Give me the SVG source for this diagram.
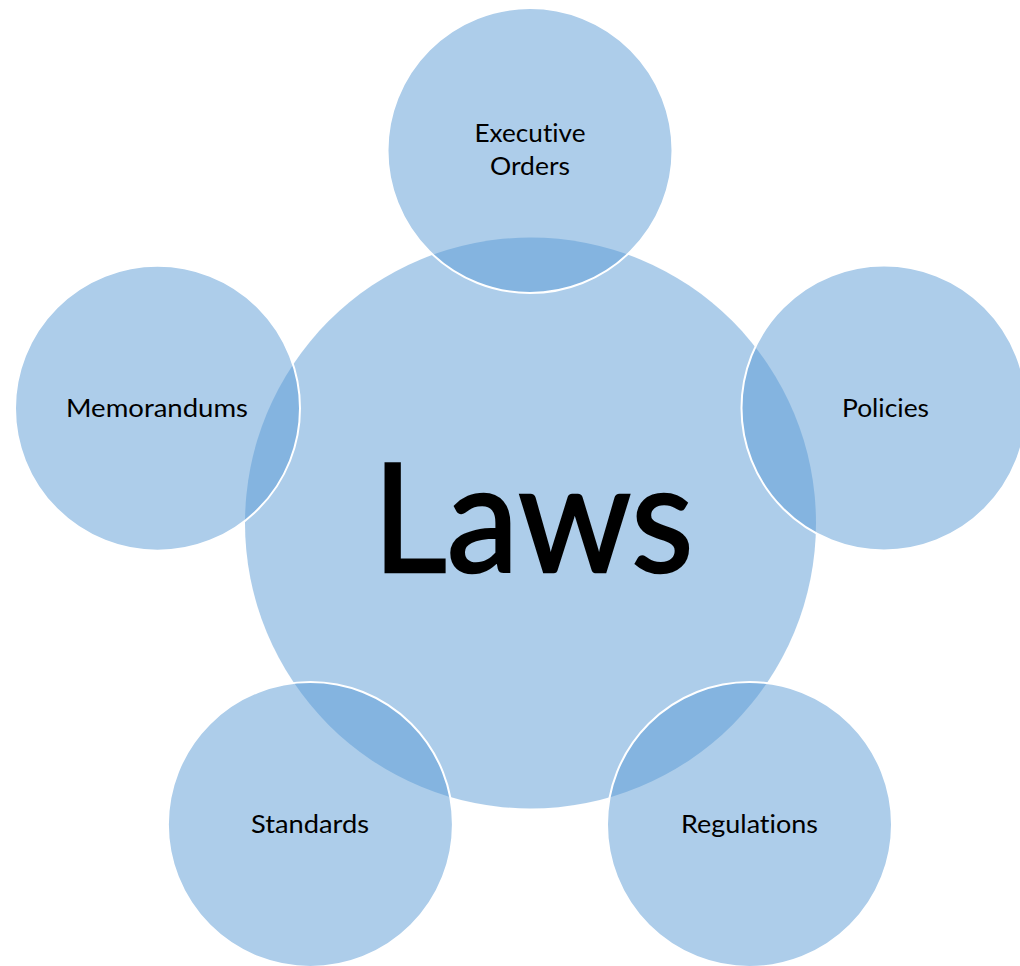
<svg xmlns="http://www.w3.org/2000/svg" width="1020" height="966" viewBox="0 0 1020 966">
  <style>
    .hub { fill: #5b9bd5; fill-opacity: 0.5; stroke: none; }
    .sat { fill: #5b9bd5; fill-opacity: 0.5; stroke: #ffffff; stroke-width: 2; }
    .lbl { font-family: Lato, "Open Sans", "Liberation Sans", sans-serif; font-size: 25px; fill: #000000; text-anchor: middle; font-variant-ligatures: none; font-feature-settings: "liga" 0, "dlig" 0; }
    .big { font-family: Lato, "Open Sans", "Liberation Sans", sans-serif; font-size: 152px; fill: #000000; stroke: #000000; stroke-width: 2.5; text-anchor: middle; font-variant-ligatures: none; }
  </style>
  <rect x="0" y="0" width="1020" height="966" fill="#ffffff"/>
  <g id="node-laws">
    <circle class="hub" cx="530.5" cy="523" r="285.5"/>
    <text class="big" x="533" y="572" textLength="321" lengthAdjust="spacingAndGlyphs">Laws</text>
  </g>
  <g id="node-executive-orders">
    <circle class="sat" cx="530" cy="150.5" r="142.5"/>
    <text class="lbl" x="530" y="142" textLength="111" lengthAdjust="spacingAndGlyphs">Executive</text>
    <text class="lbl" x="530" y="175" textLength="80" lengthAdjust="spacingAndGlyphs">Orders</text>
  </g>
  <g id="node-policies">
    <circle class="sat" cx="884" cy="408" r="142.5"/>
    <text class="lbl" x="885.5" y="417" textLength="87" lengthAdjust="spacingAndGlyphs">Policies</text>
  </g>
  <g id="node-memorandums">
    <circle class="sat" cx="157.5" cy="408.3" r="142.5"/>
    <text class="lbl" x="157" y="417" textLength="182" lengthAdjust="spacingAndGlyphs">Memorandums</text>
  </g>
  <g id="node-standards">
    <circle class="sat" cx="310.4" cy="824.5" r="142.5"/>
    <text class="lbl" x="310" y="833" textLength="118" lengthAdjust="spacingAndGlyphs">Standards</text>
  </g>
  <g id="node-regulations">
    <circle class="sat" cx="749.5" cy="824.5" r="142.5"/>
    <text class="lbl" x="749.5" y="833" textLength="137" lengthAdjust="spacingAndGlyphs">Regulations</text>
  </g>
</svg>
